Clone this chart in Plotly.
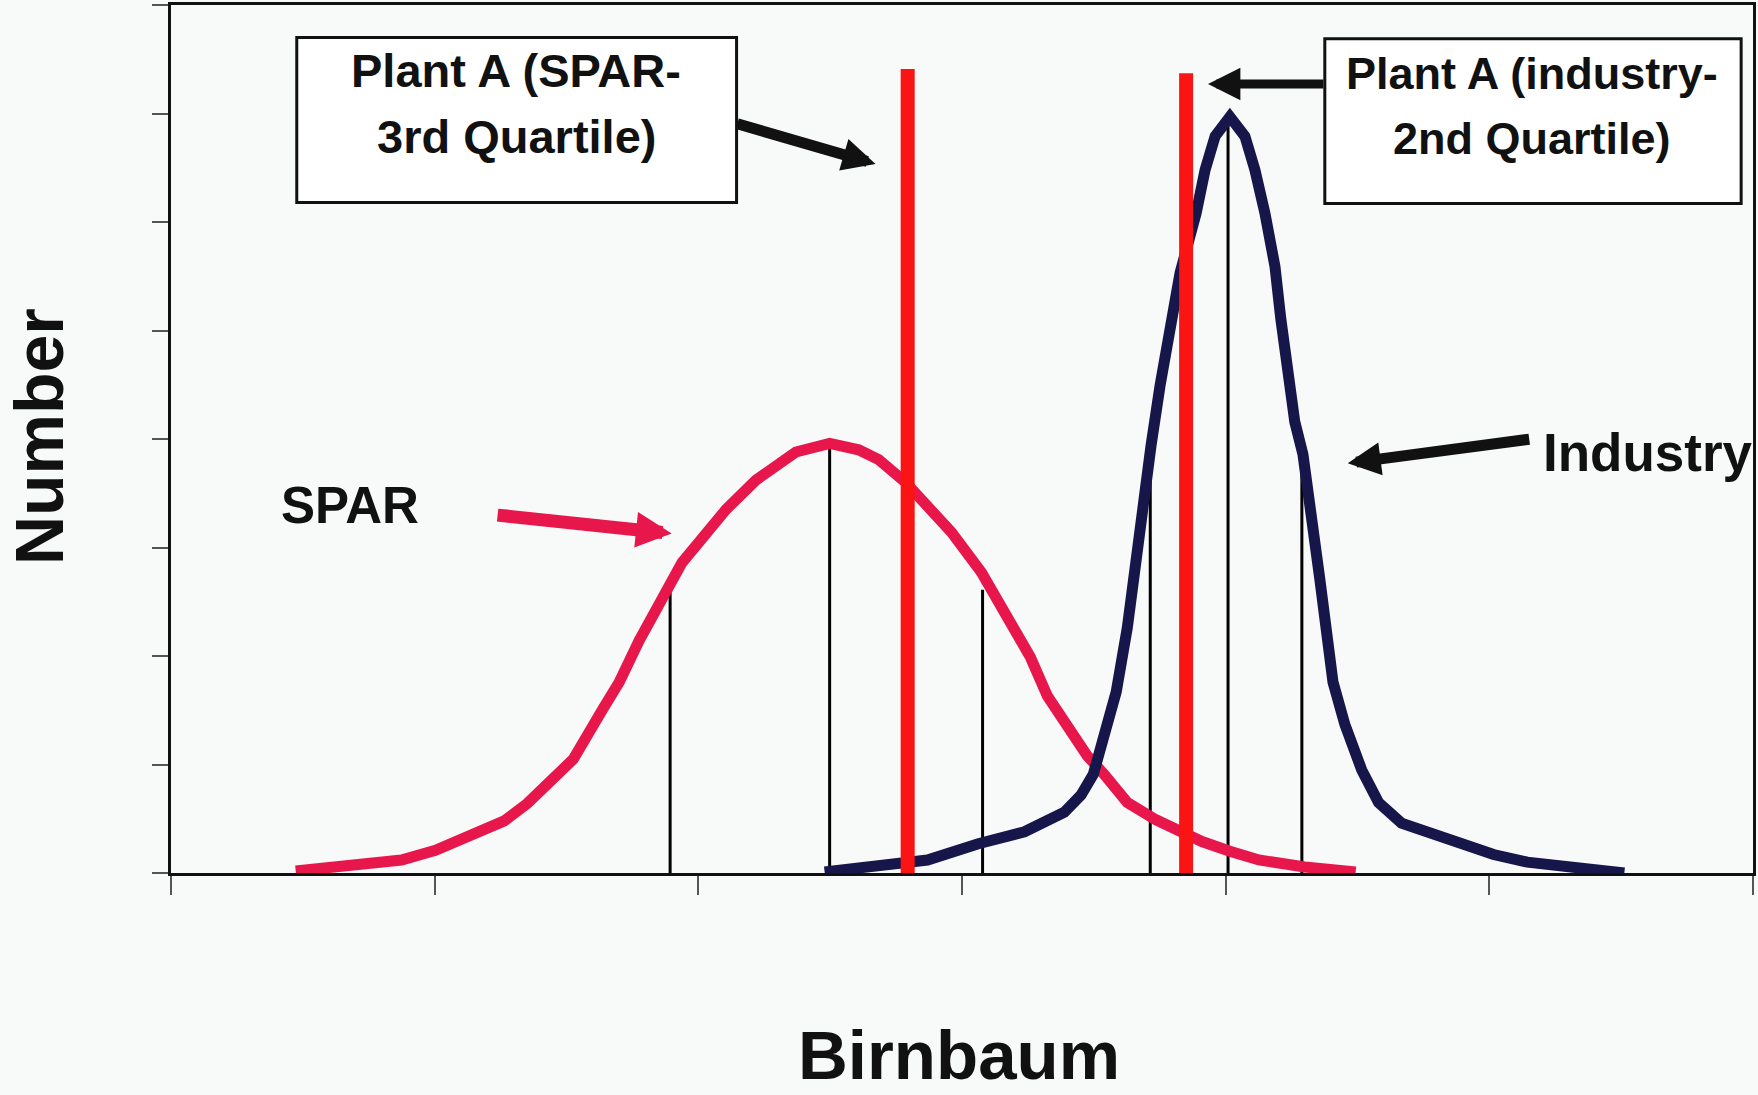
import plotly.graph_objects as go

# ---- data (x: Birnbaum, arbitrary units 0-6; y: Number, 0-8) ----
spar_x = [0.473, 0.874, 1.003, 1.136, 1.264, 1.351, 1.438, 1.526, 1.635, 1.700, 1.775,
          1.900, 1.938, 2.105, 2.218, 2.370, 2.498, 2.608, 2.684, 2.786, 2.885, 2.960,
          3.074, 3.214, 3.259, 3.324, 3.388, 3.475, 3.539, 3.627, 3.736, 3.910, 4.016,
          4.126, 4.300, 4.493]
spar_y = [0.018, 0.12, 0.21, 0.36, 0.48, 0.64, 0.85, 1.05, 1.50, 1.76, 2.14,
          2.70, 2.86, 3.35, 3.62, 3.88, 3.96, 3.90, 3.81, 3.60, 3.35, 3.14,
          2.77, 2.14, 1.99, 1.63, 1.41, 1.08, 0.91, 0.65, 0.49, 0.29, 0.20,
          0.12, 0.055, 0.01]

ind_x = [2.479, 2.608, 2.869, 3.062, 3.237, 3.388, 3.452, 3.498, 3.539, 3.585, 3.627,
         3.649, 3.687, 3.717, 3.751, 3.793, 3.827, 3.888, 3.922, 3.960, 4.016, 4.073,
         4.111, 4.149, 4.187, 4.209, 4.262, 4.293, 4.323, 4.357, 4.407, 4.452, 4.516,
         4.580, 4.667, 4.883, 5.016, 5.144, 5.319, 5.512]
ind_y = [0.01, 0.04, 0.12, 0.27, 0.38, 0.56, 0.72, 0.91, 1.24, 1.67, 2.26,
         2.71, 3.38, 3.94, 4.49, 5.11, 5.53, 6.08, 6.48, 6.79, 6.97, 6.79,
         6.48, 6.08, 5.59, 5.11, 4.16, 3.86, 3.38, 2.71, 1.76, 1.37, 0.95,
         0.65, 0.46, 0.27, 0.17, 0.10, 0.055, 0.0]

spar_quart_x = [1.893, 2.498, 3.078]
spar_quart_h = [2.61, 3.94, 2.61]
ind_quart_x = [3.714, 4.009, 4.289]
ind_quart_h = [3.94, 6.89, 3.94]

plant_x = [2.794, 3.850]
plant_top = [7.41, 7.37]

x_ticks = [0, 1, 2, 3, 4, 5, 6]
y_ticks = [0, 1, 2, 3, 4, 5, 6, 7, 8]

SPAR_C = "#E8174B"
IND_C = "#16164A"
PLANT_C = "#FA1414"
BG = "#F8F9F9"
FONT = "Liberation Sans"

fig = go.Figure()

# quartile thin lines
for qx, qh in zip(spar_quart_x + ind_quart_x, spar_quart_h + ind_quart_h):
    fig.add_trace(go.Scatter(x=[qx, qx], y=[0, qh], mode="lines",
                             line=dict(color="#000000", width=3),
                             hoverinfo="skip", showlegend=False))

fig.add_trace(go.Scatter(x=spar_x, y=spar_y, mode="lines", name="SPAR",
                         line=dict(color=SPAR_C, width=11), cliponaxis=False,
                         showlegend=False))
fig.add_trace(go.Scatter(x=ind_x, y=ind_y, mode="lines", name="Industry",
                         line=dict(color=IND_C, width=11), cliponaxis=False,
                         showlegend=False))

for px_, pt in zip(plant_x, plant_top):
    fig.add_trace(go.Scatter(x=[px_, px_], y=[0, pt], mode="lines",
                             line=dict(color=PLANT_C, width=14),
                             hoverinfo="skip", showlegend=False))

# label boxes
boxes = [(0.477, 2.145, 6.18, 7.70), (4.376, 5.955, 6.17, 7.69)]
for x0, x1, y0, y1 in boxes:
    fig.add_shape(type="rect", xref="x", yref="y", x0=x0, x1=x1, y0=y0, y1=y1,
                  line=dict(color="#111111", width=3), fillcolor="#FFFFFF")

def txt(x, y, s, size, **kw):
    fig.add_annotation(x=x, y=y, xref="x", yref="y", text=s, showarrow=False,
                       font=dict(family=FONT, size=size, color="#111111", weight="bold"),
                       xanchor="center", yanchor="middle", **kw)

txt(1.310, 7.395, "Plant A (SPAR-", 47)
txt(1.310, 6.785, "3rd Quartile)", 47)
txt(5.160, 7.37, "Plant A (industry-", 45)
txt(5.160, 6.77, "2nd Quartile)", 45)
txt(0.678, 3.39, "SPAR", 51)
txt(5.600, 3.88, "Industry", 53)

def arrow(tail, tip, color, width, size):
    fig.add_annotation(x=tip[0], y=tip[1], ax=tail[0], ay=tail[1],
                       xref="x", yref="y", axref="x", ayref="y",
                       text="", showarrow=True, arrowhead=2, arrowsize=size,
                       arrowwidth=width, arrowcolor=color)

arrow((2.142, 6.91), (2.672, 6.535), "#111111", 11, 0.6)
arrow((4.376, 7.272), (3.933, 7.272), "#111111", 9, 0.72)
arrow((5.157, 4.00), (4.463, 3.776), "#111111", 11, 0.6)
arrow((1.233, 3.30), (1.899, 3.130), SPAR_C, 13, 0.55)

# axis titles
fig.add_annotation(x=-0.083, y=0.503, xref="paper", yref="paper", text="Number",
                   showarrow=False, textangle=-90,
                   font=dict(family=FONT, size=68, color="#111111", weight="bold"),
                   xanchor="center", yanchor="middle")
fig.add_annotation(x=0.498, y=-0.2104, xref="paper", yref="paper", text="Birnbaum",
                   showarrow=False,
                   font=dict(family=FONT, size=69, color="#111111", weight="bold"),
                   xanchor="center", yanchor="middle")

fig.update_xaxes(range=[0, 6], tickvals=x_ticks, showticklabels=False,
                 ticks="outside", ticklen=19, tickwidth=1.5, tickcolor="#555555",
                 showgrid=False, zeroline=False, showline=True, linecolor="#111111",
                 linewidth=3, mirror=True, fixedrange=True)
fig.update_yaxes(range=[0, 8], tickvals=y_ticks, showticklabels=False,
                 ticks="outside", ticklen=16, tickwidth=1.5, tickcolor="#555555",
                 showgrid=False, zeroline=False, showline=True, linecolor="#111111",
                 linewidth=3, mirror=True, fixedrange=True)

fig.update_layout(width=1758, height=1095,
                  margin=dict(l=171, r=2, t=5, b=222),
                  paper_bgcolor=BG, plot_bgcolor=BG,
                  showlegend=False)

fig.write_html("out.html", config={"displayModeBar": False},
               post_script="document.body.style.margin='0';document.body.style.background='%s';" % BG)
